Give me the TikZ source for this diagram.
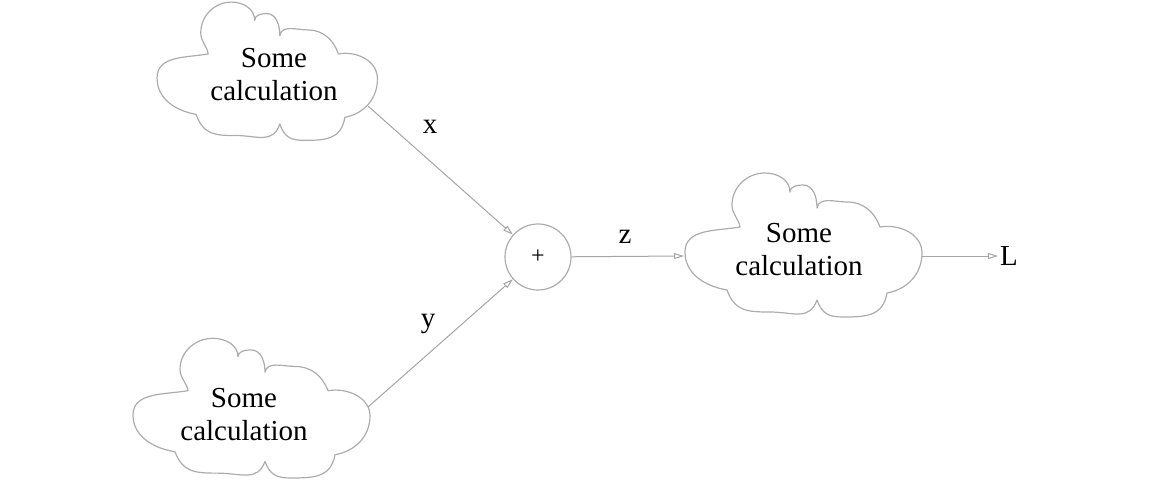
\documentclass[tikz,border=0pt]{standalone}
\usepackage{fontspec}
\setmainfont{Liberation Serif}
\usetikzlibrary{arrows.meta}
\definecolor{linegray}{RGB}{172,172,172}
\definecolor{arrowgray}{RGB}{165,165,165}

\tikzset{
  cloudline/.style={draw=linegray, line width=1.2pt, line join=round},
  cloudlabel/.style={align=center, font=\fontsize{29}{33}\selectfont, inner sep=0pt},
  edgelabel/.style={font=\fontsize{29}{33}\selectfont, inner sep=0pt},
  flow/.style={draw=arrowgray, line width=1pt, -{Triangle[open, length=10pt, width=6pt]}},
  sumnode/.style={circle, draw=linegray, line width=1.2pt, minimum size=66pt,
    inner sep=0pt, font=\fontsize{24}{24}\selectfont},
  % irregular cloud outline, drawn around its own origin
  cloudshape/.pic={
    \draw[cloudline] (-115,-2)
      to[out=90,in=190] (-60,23)
      to[out=100,in=-90] (-68,45)
      to[out=90,in=180] (-35,77)
      to[out=0,in=90] (-10,58)
      to[out=90,in=180] (3,65)
      to[out=0,in=90] (17,42)
      to[out=80,in=180] (47,48)
      to[out=0,in=110] (80,23)
      to[out=10,in=90] (122,-3)
      to[out=-90,in=10] (87,-43)
      to[out=-100,in=0,looseness=1.2] (43,-67)
      to[out=180,in=-70,looseness=1.2] (17,-50)
      to[out=-110,in=0,looseness=1.2] (-30,-62)
      to[out=180,in=-70,looseness=1.2] (-73,-40)
      to[out=170,in=-90] (-115,-2) -- cycle;
  }
}

\begin{document}
\begin{tikzpicture}[x=1pt,y=1pt]
  \useasboundingbox (0,0) rectangle (1154,-480);

  % cloud outlines
  \pic[xscale=0.93,yscale=0.96] at (264,-76) {cloudshape};
  \pic[yscale=0.97] at (248,-413) {cloudshape};
  \pic at (800,-250) {cloudshape};

  % cloud texts
  \node[cloudlabel] (calcx) at (274,-75) {Some\\calculation};
  \node[cloudlabel] (calcy) at (244,-415) {Some\\calculation};
  \node[cloudlabel] (calcz) at (799,-250) {Some\\calculation};

  % summation node
  \node[sumnode] (sum) at (538,-257) {+};

  % connection points on the cloud outlines
  \coordinate (xout) at (368,-106);
  \coordinate (yout) at (368,-407);
  \coordinate (zin) at (684,-256);
  \coordinate (zout) at (922,-256);

  \node[edgelabel] (loss) at (1009,-256) {L};

  % connectors
  \draw[flow] (xout) -- (sum);
  \draw[flow] (yout) -- (sum);
  \draw[flow] (sum) -- (zin);
  \draw[flow, shorten >=2pt] (zout) -- (loss);

  % edge labels
  \node[edgelabel] (xlab) at (430,-127) {x};
  \node[edgelabel] (ylab) at (428,-324) {y};
  \node[edgelabel] (zlab) at (625,-237) {z};
\end{tikzpicture}
\end{document}
